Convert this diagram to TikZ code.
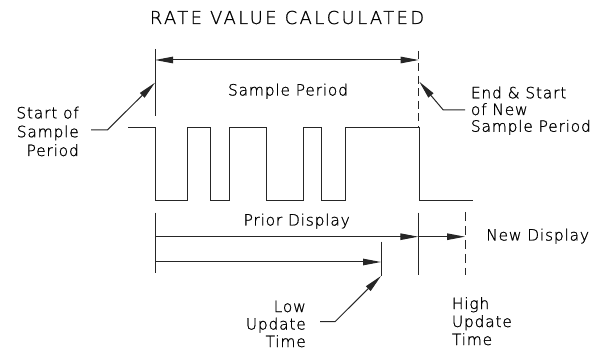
\documentclass[tikz,border=0pt]{standalone}
\usepackage{fontspec}
\usetikzlibrary{arrows.meta}
\newfontfamily\cadfont{DejaVu Sans ExtraLight}[LetterSpace=5,FakeBold=1]
\newfontfamily\cadtitle{DejaVu Sans ExtraLight}[LetterSpace=14,FakeBold=1]
\tikzset{
  ln/.style={line width=1pt, black!85},
  dsh/.style={ln, dash pattern=on 8pt off 4.5pt},
  tip/.style={-{Triangle[length=18pt,width=6.5pt]}},
  lbl/.style={inner sep=0pt, font=\cadfont\fontsize{15.5}{18}\selectfont, text=black},
}
\begin{document}
\begin{tikzpicture}[x=1pt,y=-1pt]
\useasboundingbox (0,0) rectangle (604,352);
% title
\node[lbl, font=\cadtitle\fontsize{17.8}{20}\selectfont, anchor=base] (title) at (287,24) {RATE VALUE CALCULATED};
% top reference lines
\coordinate (sTop) at (155,49);
\coordinate (sBot) at (155,116);
\coordinate (eTop) at (418.7,51);
\coordinate (eBot) at (418.7,127.3);
\draw[ln] (sTop) -- (sBot);
\draw[dsh] (eTop) -- (eBot);
\coordinate (pL) at (155,60);
\coordinate (pR) at (418.7,60);
\draw[ln, {Triangle[length=18pt,width=6.5pt]}-{Triangle[length=18pt,width=6.5pt]}] (pL) -- (pR);
\node[lbl, anchor=base] (sp) at (288,95.5) {Sample Period};
% start leader
\node[lbl, align=right, anchor=base east, font=\cadfont\fontsize{15.5}{18.8}\selectfont] (start) at (79,156) {Start of\\Sample\\Period};
\coordinate (stA) at (91,130);
\coordinate (stB) at (107.3,130);
\coordinate (stTip) at (155,82.7);
\draw[ln, tip] (stA) -- (stB) -- (stTip);
% end leader
\node[lbl, align=left, anchor=base west, font=\cadfont\fontsize{15.5}{16.7}\selectfont] (endnew) at (470.7,131.7) {End \& Start\\of New\\Sample Period};
\coordinate (enA) at (465,110);
\coordinate (enB) at (443.3,110);
\coordinate (enTip) at (419.3,81.7);
\draw[ln, tip] (enA) -- (enB) -- (enTip);
% waveform
\draw[ln] (128,127.3) -- (155,127.3) -- (155,200.7) -- (187.7,200.7) -- (187.7,127.3)
  -- (210.7,127.3) -- (210.7,200.7) -- (229,200.7) -- (229,127.3) -- (266.7,127.3)
  -- (266.7,200.7) -- (303.3,200.7) -- (303.3,127.3) -- (321.7,127.3) -- (321.7,200.7)
  -- (345,200.7) -- (345,127.3) -- (419,127.3) -- (419,200.7) -- (473.3,200.7);
% bottom lines
\coordinate (bL1) at (155,212.7);
\coordinate (bL2) at (155,272.7);
\coordinate (bM1) at (418.3,212.7);
\coordinate (bM2) at (418.3,275);
\coordinate (bR1) at (465,212);
\coordinate (bR2) at (465,275);
\coordinate (bS1) at (381,241.7);
\coordinate (bS2) at (381,276);
\draw[ln] (bL1) -- (bL2);
\draw[ln] (bM1) -- (bM2);
\draw[ln, dash pattern=on 9pt off 5pt] (bR1) -- (bR2);
\draw[ln] (bS1) -- (bS2);
\coordinate (a1L) at (155,236.7);
\coordinate (a1M) at (418.3,236.7);
\coordinate (a1R) at (465,236.7);
\coordinate (a2L) at (155,262);
\coordinate (a2R) at (381,262);
\draw[ln, tip] (a1L) -- (a1M);
\draw[ln, tip] (a1M) -- (a1R);
\draw[ln, tip] (a2L) -- (a2R);
\node[lbl, anchor=base] (prior) at (296.7,225.5) {Prior Display};
\node[lbl, anchor=base west] (newd) at (486,240.5) {New Display};
% low update leader
\node[lbl, align=right, anchor=base east, font=\cadfont\fontsize{15.5}{17.5}\selectfont] (low) at (306,347) {Low\\Update\\Time};
\coordinate (loA) at (320,321.7);
\coordinate (loB) at (335,321.7);
\coordinate (loTip) at (381,276);
\draw[ln, tip] (loA) -- (loB) -- (loTip);
\node[lbl, align=left, anchor=base west, font=\cadfont\fontsize{15.5}{18}\selectfont] (high) at (451.7,345) {High\\Update\\Time};
\end{tikzpicture}
\end{document}
